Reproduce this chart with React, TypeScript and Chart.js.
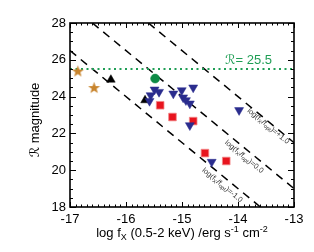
import React, { useEffect, useRef } from 'react';
import { Chart, registerables } from 'chart.js';
Chart.register(...registerables);

// ---- data ----
const starX = [-16.86, -16.57];
const starR = [25.39, 24.49];
const upTriX = [-16.27, -15.66];
const upTriR = [24.92, 23.8];
const circX = [-15.48];
const circR = [24.98];
const blueX = [-15.49, -15.41, -15.56, -15.58, -15.155, -15.005, -14.8, -14.98, -14.93, -14.86, -14.86, -13.98, -14.47];
const blueR = [24.38, 24.25, 24.07, 23.76, 24.16, 24.34, 24.49, 23.95, 23.8, 23.62, 22.44, 23.26, 20.45];
const redX = [-15.39, -15.17, -14.8, -14.59, -14.21];
const redR = [23.53, 22.89, 22.67, 20.93, 20.5];

// dashed log(fX/fopt) lines: endpoints
const linePlus1X = [-15.6, -13];
const linePlus1R = [28, 21.5];
const lineZeroX = [-16.6, -13];
const lineZeroR = [28, 19.0];
const lineMinus1X = [-17, -13.6];
const lineMinus1R = [26.5, 18];
const lineLabels = ['+1.0', '0.0', '-1.0'];
const labelAnchorX = [-13.46, -13.89, -14.28];
const labelAnchorR = [22.39, 20.73, 19.18];

const limitR = 25.5;
const limitX = [-17, -13];
const limitText = 'ℛ= 25.5';
const limitTextX = -14.23;

const xTicks = [-17, -16, -15, -14, -13];
const yTicks = [18, 20, 22, 24, 26, 28];

const FONT = "'Liberation Sans', Arial, 'DejaVu Sans', sans-serif";
const GREEN = '#1f9e55';

function pts(xs: number[], ys: number[]) {
  return xs.map((x, i) => ({ x, y: ys[i] }));
}

function makeStar(): HTMLCanvasElement {
  const c = document.createElement('canvas');
  c.width = 13; c.height = 13;
  const g = c.getContext('2d')!;
  const cx = 6.5, cy = 7, ro = 6.3, ri = 2.6;
  g.beginPath();
  for (let i = 0; i < 10; i++) {
    const r = i % 2 === 0 ? ro : ri;
    const a = -Math.PI / 2 + (i * Math.PI) / 5;
    const px = cx + r * Math.cos(a), py = cy + r * Math.sin(a);
    if (i === 0) g.moveTo(px, py); else g.lineTo(px, py);
  }
  g.closePath();
  g.fillStyle = '#c8842c';
  g.fill();
  return c;
}

function drawSegs(ctx: CanvasRenderingContext2D, segs: { t: string; size: number; dy: number }[], x: number, y: number, align: 'center' | 'left') {
  let total = 0;
  const widths = segs.map((s) => {
    ctx.font = `${s.size}px ${FONT}`;
    const w = ctx.measureText(s.t).width;
    total += w;
    return w;
  });
  let cx = align === 'center' ? x - total / 2 : x;
  segs.forEach((s, i) => {
    ctx.font = `${s.size}px ${FONT}`;
    ctx.fillText(s.t, cx, y + s.dy);
    cx += widths[i];
  });
}

const decorPlugin = {
  id: 'decor',
  afterDatasetsDraw(chart: any) {
    const { ctx, chartArea: a, scales } = chart;
    const xs = scales.x, ys = scales.y;
    ctx.save();
    // frame
    ctx.strokeStyle = '#000';
    ctx.lineWidth = 1.6;
    ctx.strokeRect(a.left, a.top, a.right - a.left, a.bottom - a.top);
    // ticks
    ctx.lineWidth = 1;
    ctx.beginPath();
    for (let i = 0; i <= 40; i++) {
      const px = Math.round(xs.getPixelForValue(-17 + i * 0.1)) + 0.5;
      const len = i % 10 === 0 ? 5 : 2.5;
      ctx.moveTo(px, a.bottom); ctx.lineTo(px, a.bottom - len);
      ctx.moveTo(px, a.top); ctx.lineTo(px, a.top + len);
    }
    for (let i = 0; i <= 20; i++) {
      const py = Math.round(ys.getPixelForValue(18 + i * 0.5)) + 0.5;
      const len = i % 4 === 0 ? 6 : 3;
      ctx.moveTo(a.left, py); ctx.lineTo(a.left + len, py);
      ctx.moveTo(a.right, py); ctx.lineTo(a.right - len, py);
    }
    ctx.stroke();

    // line labels
    const lines = [
      [linePlus1X, linePlus1R],
      [lineZeroX, lineZeroR],
      [lineMinus1X, lineMinus1R],
    ];
    ctx.fillStyle = '#333';
    ctx.textBaseline = 'middle';
    lines.forEach((ln, i) => {
      const x1 = xs.getPixelForValue(ln[0][0]), y1 = ys.getPixelForValue(ln[1][0]);
      const x2 = xs.getPixelForValue(ln[0][1]), y2 = ys.getPixelForValue(ln[1][1]);
      const ang = Math.atan2(y2 - y1, x2 - x1);
      const px = xs.getPixelForValue(labelAnchorX[i]);
      const py = ys.getPixelForValue(labelAnchorR[i]);
      ctx.save();
      ctx.translate(px, py);
      ctx.rotate(ang);
      drawSegs(ctx, [
        { t: 'log(f', size: 7.5, dy: 0 },
        { t: 'X', size: 5.5, dy: 2 },
        { t: '/f', size: 7.5, dy: 0 },
        { t: 'opt', size: 5.5, dy: 2 },
        { t: ')=' + lineLabels[i], size: 7.5, dy: 0 },
      ], 0, 0, 'center');
      ctx.restore();
    });

    // limit label
    ctx.fillStyle = GREEN;
    ctx.textBaseline = 'alphabetic';
    ctx.textAlign = 'left';
    ctx.font = `13px ${FONT}`;
    ctx.fillText(limitText, xs.getPixelForValue(limitTextX), ys.getPixelForValue(limitR) - 5);

    // axis titles
    ctx.fillStyle = '#000';
    drawSegs(ctx, [
      { t: 'log f', size: 13, dy: 0 },
      { t: 'X', size: 9, dy: 3 },
      { t: ' (0.5-2 keV) /erg s', size: 13, dy: 0 },
      { t: '-1', size: 9, dy: -5 },
      { t: ' cm', size: 13, dy: 0 },
      { t: '-2', size: 9, dy: -5 },
    ], (a.left + a.right) / 2, 237, 'center');

    ctx.save();
    ctx.translate(39, (a.top + a.bottom) / 2 + 5);
    ctx.rotate(-Math.PI / 2);
    ctx.textAlign = 'center';
    ctx.font = `13px ${FONT}`;
    ctx.fillText('ℛ magnitude', 0, 0);
    ctx.restore();

    ctx.restore();
  },
};

export default function App() {
  const ref = useRef<HTMLCanvasElement>(null);
  useEffect(() => {
    if (!ref.current) return;
    const star = makeStar();
    const lineDs = (xs: number[], ys: number[]) => ({
      type: 'line' as const,
      data: pts(xs, ys),
      showLine: true,
      borderColor: '#000',
      borderWidth: 1.5,
      borderDash: [8, 6],
      pointRadius: 0,
      fill: false,
      order: 10,
    });
    const chart = new Chart(ref.current, {
      type: 'scatter',
      data: {
        datasets: [
          lineDs(linePlus1X, linePlus1R),
          lineDs(lineZeroX, lineZeroR),
          lineDs(lineMinus1X, lineMinus1R),
          {
            type: 'line',
            data: pts(limitX, [limitR, limitR]),
            showLine: true,
            borderColor: GREEN,
            borderWidth: 2,
            borderDash: [2, 3.5],
            pointRadius: 0,
            fill: false,
            order: 9,
          } as any,
          {
            data: pts(redX, redR),
            pointStyle: 'rect',
            pointRadius: 5.4,
            backgroundColor: '#e8141e',
            borderColor: '#f28a8a',
            borderWidth: 0.8,
            order: 2,
          },
          {
            data: pts(blueX, blueR),
            pointStyle: 'triangle',
            rotation: 180,
            pointRadius: 5.2,
            backgroundColor: '#2b2d8e',
            borderColor: '#2b2d8e',
            borderWidth: 0.5,
            order: 1,
          },
          {
            data: pts(upTriX, upTriR),
            pointStyle: 'triangle',
            pointRadius: 5,
            backgroundColor: '#000',
            borderColor: '#000',
            borderWidth: 0.5,
            order: 1,
          },
          {
            data: pts(circX, circR),
            pointStyle: 'circle',
            pointRadius: 4.5,
            backgroundColor: '#0e8a46',
            borderColor: '#0e8a46',
            borderWidth: 0.5,
            order: 1,
          },
          {
            data: pts(starX, starR),
            pointStyle: star as any,
            pointRadius: 6,
            order: 1,
          },
        ],
      },
      options: {
        animation: false,
        responsive: false,
        devicePixelRatio: 1,
        layout: { padding: { top: 23, right: 20, left: 0, bottom: 0 } },
        plugins: { legend: { display: false }, tooltip: { enabled: false } },
        scales: {
          x: {
            type: 'linear',
            min: -17,
            max: -13,
            afterBuildTicks: (s: any) => { s.ticks = xTicks.map((v) => ({ value: v })); },
            afterFit: (s: any) => { s.height = 45; },
            ticks: { color: '#000', font: { family: FONT, size: 13 }, padding: 5, maxRotation: 0 },
            grid: { display: false, drawTicks: false },
            border: { display: false },
          },
          y: {
            type: 'linear',
            min: 18,
            max: 28,
            afterBuildTicks: (s: any) => { s.ticks = yTicks.map((v) => ({ value: v })); },
            afterFit: (s: any) => { s.width = 70; },
            ticks: { color: '#000', font: { family: FONT, size: 13 }, padding: 4 },
            grid: { display: false, drawTicks: false },
            border: { display: false },
          },
        },
      },
      plugins: [decorPlugin],
    });
    return () => chart.destroy();
  }, []);
  return (
    <div style={{ position: 'fixed', left: 0, top: 0, width: 314, height: 252, background: '#fff' }}>
      <canvas ref={ref} width={314} height={252} style={{ width: 314, height: 252 }} />
    </div>
  );
}
